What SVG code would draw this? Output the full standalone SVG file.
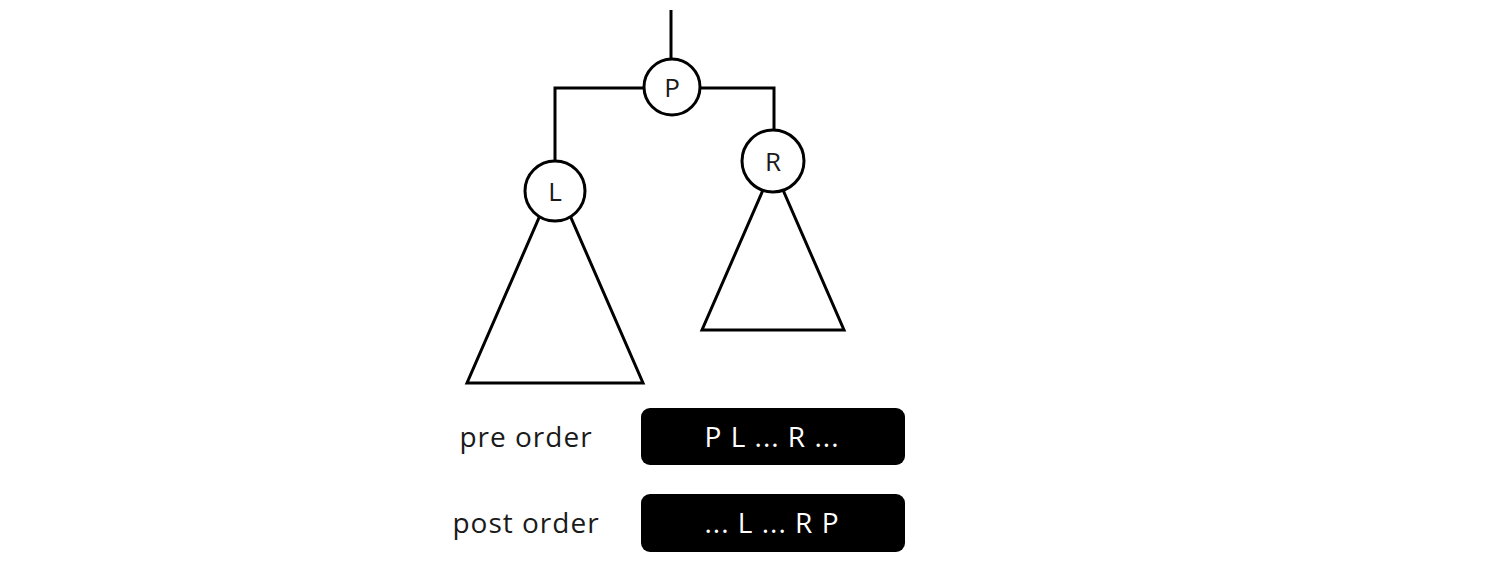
<svg xmlns="http://www.w3.org/2000/svg" width="1510" height="562" viewBox="0 0 1510 562">
<style>
.ln{fill:none;stroke:#000;stroke-width:3}
.tri{fill:#fff;stroke:#000;stroke-width:3;stroke-linejoin:miter}
.nd{fill:#fff;stroke:#000;stroke-width:3}
.nt{font-family:"Open Sans","Liberation Sans",sans-serif;font-size:26px;fill:#1a1a1a;text-anchor:middle}
.lbl{font-family:"Open Sans","Liberation Sans",sans-serif;font-size:28px;letter-spacing:1px;fill:#1a1a1a;text-anchor:middle}
.box{fill:#000}
.bt{font-family:"Open Sans","Liberation Sans",sans-serif;font-size:28px;letter-spacing:1px;fill:#fff;text-anchor:middle}
</style>
<rect width="1510" height="562" fill="#fff"/>
<g id="connectors">
<line class="ln" x1="671" y1="10" x2="671" y2="60"/>
<polyline class="ln" points="644,88 555,88 555,161"/>
<polyline class="ln" points="700,88 774,88 774,130"/>
</g>
<g id="subtree-L">
<polygon class="tri" points="555,181 643,383 467,383"/>
</g>
<g id="subtree-R">
<polygon class="tri" points="773,167 844,330 702,330"/>
</g>
<g id="node-P">
<circle class="nd" cx="672" cy="87" r="28"/>
<text class="nt" x="672" y="97">P</text>
</g>
<g id="node-L">
<circle class="nd" cx="555" cy="191" r="30"/>
<text class="nt" x="555" y="201">L</text>
</g>
<g id="node-R">
<circle class="nd" cx="773" cy="161" r="31"/>
<text class="nt" x="773" y="171">R</text>
</g>
<g id="pre-order">
<text class="lbl" x="526" y="447">pre order</text>
<rect class="box" x="641" y="408" width="264" height="57" rx="9"/>
<text class="bt" x="772" y="447">P L ... R ...</text>
</g>
<g id="post-order">
<text class="lbl" x="526" y="533">post order</text>
<rect class="box" x="641" y="494" width="264" height="58" rx="9"/>
<text class="bt" x="772" y="533">... L ... R P</text>
</g>
</svg>
